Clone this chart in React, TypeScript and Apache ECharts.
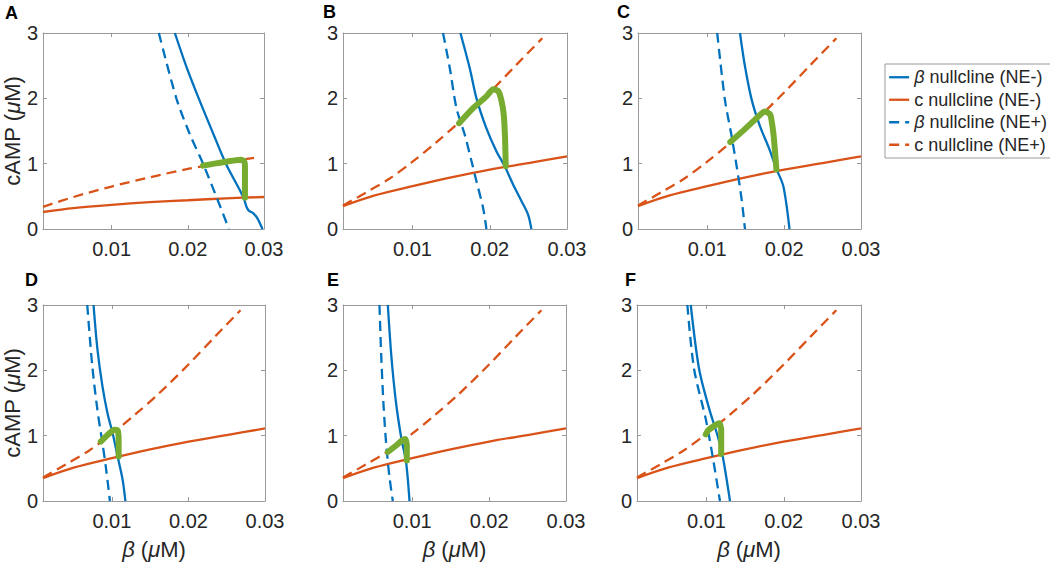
import React, { useEffect, useRef } from 'react';
import * as echarts from 'echarts';

const legendNames = ['β nullcline (NE-)', 'c nullcline (NE-)', 'β nullcline (NE+)', 'c nullcline (NE+)'];
const panelLabels = ['A', 'B', 'C', 'D', 'E', 'F'];
const xTickValues = [0.01, 0.02, 0.03];
const xMinorTicks = [0.01, 0.02];
const yTickValues = [0, 1, 2, 3];

// Panel A
const betaNullMinusA = [[0.0183, 3], [0.0198, 2.49], [0.0215, 1.98], [0.0233, 1.47], [0.025, 1.0], [0.0268, 0.6], [0.0274, 0.45], [0.0277, 0.34], [0.0280, 0.28], [0.0286, 0.24], [0.0291, 0.17], [0.0298, 0]];
const cNullMinusA = [[0.001, 0.26], [0.005, 0.32], [0.01, 0.37], [0.015, 0.41], [0.02, 0.44], [0.025, 0.47], [0.03, 0.49]];
const betaNullPlusA = [[0.0162, 3], [0.0185, 2.0], [0.0202, 1.47], [0.022, 1.0], [0.0239, 0.45], [0.0254, 0]];
const cNullPlusA = [[0.001, 0.34], [0.005, 0.49], [0.01, 0.65], [0.015, 0.79], [0.02, 0.92], [0.025, 1.02], [0.0287, 1.09]];
const trajA = [[0.022, 0.97], [0.0235, 1.0], [0.025, 1.03], [0.0262, 1.05], [0.027, 1.06], [0.0274, 1.04], [0.0275, 0.95], [0.0275, 0.7], [0.0275, 0.48]];

// Panels B-F share the c nullclines
const cNullMinusBF = [[0.001, 0.35], [0.005, 0.51], [0.01, 0.655], [0.015, 0.79], [0.02, 0.91], [0.025, 1.01], [0.03, 1.11]];
const cNullPlusBF = [[0.001, 0.36], [0.004, 0.56], [0.007, 0.77], [0.01, 1.03], [0.013, 1.32], [0.016, 1.63], [0.02, 2.09], [0.0235, 2.52], [0.0268, 2.92]];

// Panel B
const betaNullMinusB = [[0.0162, 3], [0.01741, 2.46], [0.01828, 2.0], [0.01957, 1.54], [0.02086, 1.19], [0.02194, 0.96], [0.02302, 0.68], [0.0241, 0.43], [0.02496, 0.22], [0.02539, 0]];
const betaNullPlusB = [[0.01395, 3], [0.01483, 2.46], [0.01569, 1.85], [0.01677, 1.44], [0.01763, 1.04], [0.01828, 0.73], [0.01914, 0.32], [0.01957, 0]];
const trajB = [[0.01603, 1.62], [0.01784, 1.85], [0.01957, 2.03], [0.02043, 2.14], [0.0211, 2.11], [0.0215, 1.97], [0.02181, 1.75], [0.02198, 1.39], [0.02207, 0.96]];

// Panel C
const betaNullMinusC = [[0.01426, 3], [0.01491, 2.49], [0.01578, 1.98], [0.01687, 1.57], [0.01796, 1.26], [0.01904, 0.91], [0.01991, 0.65], [0.0207, 0]];
const betaNullPlusC = [[0.0113, 3], [0.0123, 1.98], [0.0131, 1.47], [0.01383, 0.96], [0.01448, 0.45], [0.01491, 0]];
const trajC = [[0.013, 1.33], [0.015, 1.54], [0.0169, 1.75], [0.0175, 1.8], [0.0182, 1.75], [0.0186, 1.47], [0.0188, 1.21], [0.019, 0.91]];

// Panel D
const betaNullMinusD = [[0.0076, 3], [0.00811, 2.32], [0.00877, 1.75], [0.00943, 1.34], [0.01009, 1.04], [0.01075, 0.68], [0.01141, 0.32], [0.01176, 0]];
const betaNullPlusD = [[0.00678, 3], [0.00744, 2.06], [0.00811, 1.39], [0.00877, 0.88], [0.00921, 0.52], [0.00974, 0]];
const trajD = [[0.00855, 0.91], [0.00943, 1.01], [0.01031, 1.09], [0.01075, 1.08], [0.01088, 0.93], [0.01088, 0.68]];

// Panel E
const betaNullMinusE = [[0.00683, 3], [0.0073, 2.2], [0.0079, 1.5], [0.0086, 0.95], [0.0092, 0.6], [0.00965, 0]];
const betaNullPlusE = [[0.00574, 3], [0.00596, 2.26], [0.00626, 1.49], [0.00661, 0.88], [0.00704, 0.37], [0.00748, 0]];
const trajE = [[0.00683, 0.75], [0.0079, 0.85], [0.0087, 0.93], [0.0091, 0.95], [0.0093, 0.85], [0.0093, 0.62]];

// Panel F
const betaNullMinusF = [[0.00796, 3], [0.00904, 2.02], [0.01035, 1.41], [0.01143, 1.0], [0.01209, 0.69], [0.01304, 0]];
const betaNullPlusF = [[0.00752, 3], [0.00839, 2.02], [0.00991, 1.25], [0.01078, 0.69], [0.01174, 0]];
const trajF = [[0.0099, 1.02], [0.0102, 1.08], [0.011, 1.15], [0.01165, 1.19], [0.0119, 1.1], [0.0119, 0.9], [0.0119, 0.72]];

const panels = [
  { bm: betaNullMinusA, cm: cNullMinusA, bp: betaNullPlusA, cp: cNullPlusA, tr: trajA },
  { bm: betaNullMinusB, cm: cNullMinusBF, bp: betaNullPlusB, cp: cNullPlusBF, tr: trajB },
  { bm: betaNullMinusC, cm: cNullMinusBF, bp: betaNullPlusC, cp: cNullPlusBF, tr: trajC },
  { bm: betaNullMinusD, cm: cNullMinusBF, bp: betaNullPlusD, cp: cNullPlusBF, tr: trajD },
  { bm: betaNullMinusE, cm: cNullMinusBF, bp: betaNullPlusE, cp: cNullPlusBF, tr: trajE },
  { bm: betaNullMinusF, cm: cNullMinusBF, bp: betaNullPlusF, cp: cNullPlusBF, tr: trajF },
];

const BLUE = '#0072BD';
const ORANGE = '#D95319';
const GREEN = '#77AC30';
const AXIS = '#9a9a9a';
const TEXT = '#262626';
const FONT = '"Liberation Sans", Arial, Helvetica, sans-serif';
const LW = 2.3;

const grids = [
  { left: 41, top: 33, width: 223, height: 196 },
  { left: 343, top: 33, width: 224, height: 196 },
  { left: 638, top: 33, width: 223, height: 196 },
  { left: 42, top: 305, width: 223, height: 196 },
  { left: 343, top: 305, width: 223, height: 196 },
  { left: 637, top: 305, width: 224, height: 196 },
];
const labelPos = [[5, 13], [323, 12], [617, 12], [25, 280], [327, 280], [625, 280]];

const richStyles = {
  r: { fontSize: 22, color: TEXT, fontFamily: FONT },
  i: { fontSize: 22, color: TEXT, fontStyle: 'italic', fontFamily: FONT },
};

function buildOption() {
  const xAxis: any[] = [];
  const yAxis: any[] = [];
  const series: any[] = [];
  grids.forEach((g, i) => {
    const bottomRow = i >= 3;
    const leftCol = i % 3 === 0;
    const common = {
      gridIndex: i,
      type: 'value',
      splitLine: { show: false },
      axisLine: { show: true, onZero: false, lineStyle: { color: AXIS, width: 1 } },
    };
    xAxis.push({
      ...common,
      position: 'bottom',
      min: 0.001,
      max: 0.03,
      axisTick: { show: true, inside: true, length: 4, customValues: xMinorTicks, lineStyle: { color: AXIS } },
      axisLabel: {
        show: true,
        customValues: xTickValues,
        formatter: (v: number) => v.toFixed(2),
        fontSize: 20,
        color: TEXT,
        margin: 10,
        fontFamily: FONT,
      },
      name: bottomRow ? '{i|β}{r| (}{i|μ}{r|M)}' : '',
      nameLocation: 'middle',
      nameGap: 37,
      nameTextStyle: { rich: richStyles, fontSize: 22, color: TEXT },
    });
    xAxis.push({
      ...common,
      position: 'top',
      min: 0.001,
      max: 0.03,
      axisTick: { show: true, inside: true, length: 4, customValues: xMinorTicks, lineStyle: { color: AXIS } },
      axisLabel: { show: false },
    });
    yAxis.push({
      ...common,
      position: 'left',
      min: yTickValues[0],
      max: yTickValues[yTickValues.length - 1],
      interval: 1,
      axisTick: { show: true, inside: true, length: 4, lineStyle: { color: AXIS } },
      axisLabel: { show: true, fontSize: 20, color: TEXT, margin: 5, fontFamily: FONT },
      name: leftCol ? '{r|cAMP (}{i|μ}{r|M)}' : '',
      nameLocation: 'middle',
      nameGap: 15,
      nameRotate: 90,
      nameTextStyle: { rich: richStyles, fontSize: 22, color: TEXT },
    });
    yAxis.push({
      ...common,
      position: 'right',
      min: yTickValues[0],
      max: yTickValues[yTickValues.length - 1],
      interval: 1,
      axisTick: { show: true, inside: true, length: 4, lineStyle: { color: AXIS } },
      axisLabel: { show: false },
    });
    const p = panels[i];
    const base = { type: 'line', xAxisIndex: 2 * i, yAxisIndex: 2 * i, symbol: 'none', showSymbol: false, silent: true, clip: true };
    series.push({ ...base, name: legendNames[0], data: p.bm, smooth: 0.3, lineStyle: { color: BLUE, width: LW }, itemStyle: { color: BLUE } });
    series.push({ ...base, name: legendNames[1], data: p.cm, smooth: 0.3, lineStyle: { color: ORANGE, width: LW }, itemStyle: { color: ORANGE } });
    series.push({ ...base, name: legendNames[2], data: p.bp, smooth: 0.3, lineStyle: { color: BLUE, width: LW, type: [10, 6] }, itemStyle: { color: BLUE } });
    series.push({ ...base, name: legendNames[3], data: p.cp, smooth: 0.3, lineStyle: { color: ORANGE, width: LW, type: [10, 6] }, itemStyle: { color: ORANGE } });
    series.push({ ...base, name: 'trajectory', data: p.tr, smooth: 0.2, lineStyle: { color: GREEN, width: 6, cap: 'round', join: 'round' }, itemStyle: { color: GREEN } });
  });

  return {
    animation: false,
    backgroundColor: '#ffffff',
    textStyle: { fontFamily: FONT },
    grid: grids.map((g) => ({ ...g, containLabel: false })),
    xAxis,
    yAxis,
    series,
    legend: {
      orient: 'vertical',
      left: 885,
      top: 64,
      data: legendNames,
      selectedMode: false,
      itemWidth: 20,
      itemHeight: 10,
      itemGap: 0,
      padding: [2, 6, 2, 3],
      borderColor: AXIS,
      borderWidth: 1,
      backgroundColor: '#fff',
      itemStyle: { opacity: 0, borderWidth: 0 },
      lineStyle: { width: LW },
      formatter: (name: string) =>
        name.startsWith('β') ? '{i|β}{r|' + name.slice(1) + '}' : '{r|' + name + '}',
      textStyle: {
        fontSize: 18,
        color: TEXT,
        lineHeight: 22.5,
        rich: {
          r: { fontSize: 18, color: TEXT, lineHeight: 22.5, fontFamily: FONT },
          i: { fontSize: 18, color: TEXT, lineHeight: 22.5, fontStyle: 'italic', fontFamily: FONT },
        },
      },
    },
    graphic: panelLabels.map((t, i) => ({
      type: 'text',
      x: labelPos[i][0],
      y: labelPos[i][1],
      style: { text: t, fontSize: 18, fontWeight: 'bold', fill: '#000', fontFamily: FONT, verticalAlign: 'middle' },
    })),
  };
}

export default function App() {
  const ref = useRef<HTMLDivElement>(null);
  useEffect(() => {
    if (!ref.current) return;
    const chart = echarts.init(ref.current, undefined, { renderer: 'svg' });
    chart.setOption(buildOption() as any);
    return () => chart.dispose();
  }, []);
  return <div ref={ref} style={{ position: 'absolute', left: 0, top: 0, width: 1050, height: 562 }} />;
}
